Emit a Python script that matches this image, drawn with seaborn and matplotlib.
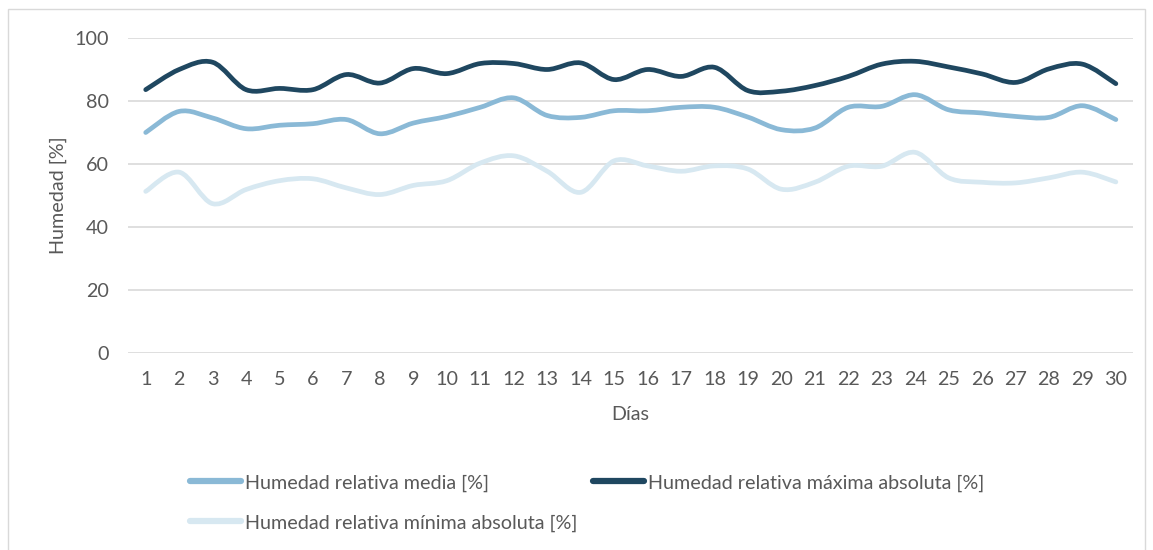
import numpy as np
import pandas as pd
import seaborn as sns
import matplotlib
matplotlib.use('Agg')
import matplotlib.pyplot as plt
from matplotlib.path import Path
from matplotlib.patches import PathPatch, Rectangle
from matplotlib.lines import Line2D

# valores
dias = list(range(1, 31))
hr_media = [70, 76.7, 74.6, 71.2, 72.3, 72.8, 74.1, 69.6, 73, 75.1, 78, 81, 75.4, 74.8, 76.9,
            76.9, 78, 78, 74.9, 70.9, 71.4, 78, 78.3, 82, 77.2, 76.2, 75.1, 74.8, 78.5, 74.1]
hr_maxima = [83.6, 90, 92.3, 83.6, 84, 83.6, 88.4, 85.7, 90.3, 88.7, 91.9, 91.9, 90, 92.1, 86.8,
             90, 87.8, 90.7, 83.3, 83.1, 84.9, 87.8, 91.7, 92.6, 90.8, 88.6, 85.9, 90.2, 91.7, 85.5]
hr_minima = [51.3, 57.4, 47.4, 51.9, 54.7, 55.3, 52.4, 50.3, 53.2, 54.7, 60.3, 62.6, 57.7, 51, 61,
             59.4, 57.7, 59.4, 58.4, 52, 54.2, 59.3, 59.3, 63.7, 55.6, 54.2, 54, 55.6, 57.4, 54.3]

series = ['Humedad relativa media [%]',
          'Humedad relativa máxima absoluta [%]',
          'Humedad relativa mínima absoluta [%]']
colores = ['#8AB9D6', '#1F4760', '#D7E8F1']

df = pd.DataFrame({'Día': dias * 3,
                   'valor': hr_media + hr_maxima + hr_minima,
                   'serie': np.repeat(series, len(dias))})

sns.set_theme(style='white')
plt.rcParams['font.family'] = ['Lato', 'DejaVu Sans']
gris = '#595959'
fs = 14.2


def smooth_path(x, y):
    # curva tipo "linea suavizada" de Excel (bezier cubica por los puntos)
    pts = np.column_stack([x, y]).astype(float)
    n = len(pts)
    verts = [pts[0]]
    codes = [Path.MOVETO]
    for i in range(n - 1):
        p0 = pts[max(i - 1, 0)]
        p1 = pts[i]
        p2 = pts[i + 1]
        p3 = pts[min(i + 2, n - 1)]
        verts += [p1 + (p2 - p0) / 6, p2 - (p3 - p1) / 6, p2]
        codes += [Path.CURVE4] * 3
    return Path(verts, codes)


fig = plt.figure(figsize=(11.53, 5.5), dpi=100)
ax = fig.add_axes([0.111, 0.3582, 0.8713, 0.5727])

sns.lineplot(data=df, x='Día', y='valor', hue='serie', palette=colores,
             linewidth=3.3, legend=False, ax=ax)
for line in ax.lines:
    line.set_visible(False)

for nombre, col in zip(series, colores):
    sub = df[df['serie'] == nombre]
    patch = PathPatch(smooth_path(sub['Día'], sub['valor']), fill=False,
                      edgecolor=col, lw=3.4, capstyle='round', joinstyle='round', zorder=3)
    ax.add_patch(patch)

ax.set_xlim(0.47, 30.5)
ax.set_ylim(0, 100)
ax.set_xticks(dias)
ax.set_yticks(range(0, 101, 20))
ax.grid(axis='y', color='#D9D9D9', lw=1.2)
ax.grid(axis='x', visible=False)
for s in ax.spines.values():
    s.set_visible(False)
ax.tick_params(axis='y', length=0, pad=14, labelsize=fs, labelcolor=gris)
ax.tick_params(axis='x', length=0, pad=13, labelsize=fs, labelcolor=gris)
ax.set_xlabel('Días', fontsize=fs, color=gris, labelpad=13)
ax.set_ylabel('Humedad [%]', fontsize=fs, color=gris, labelpad=5)

# leyenda: orden para que "mínima" quede debajo de "media"
orden = [0, 2, 1]
handles = [Line2D([0], [0], color=colores[i], lw=4.5, solid_capstyle='round') for i in orden]
labels = [series[i] for i in orden]
fig.legend(handles, labels, loc='upper left', bbox_to_anchor=(0.149, 0.17), ncol=2,
           frameon=False, fontsize=fs, labelcolor=gris, handlelength=2.6,
           handletextpad=0.2, columnspacing=0.8, labelspacing=1.15)

fig.patches.append(Rectangle((8 / 1153, -0.02), 1137 / 1153, 1 - 9 / 550 + 0.02,
                             transform=fig.transFigure, fill=False,
                             edgecolor='#D9D9D9', lw=1.0))

fig.savefig('out.png', dpi=100)
